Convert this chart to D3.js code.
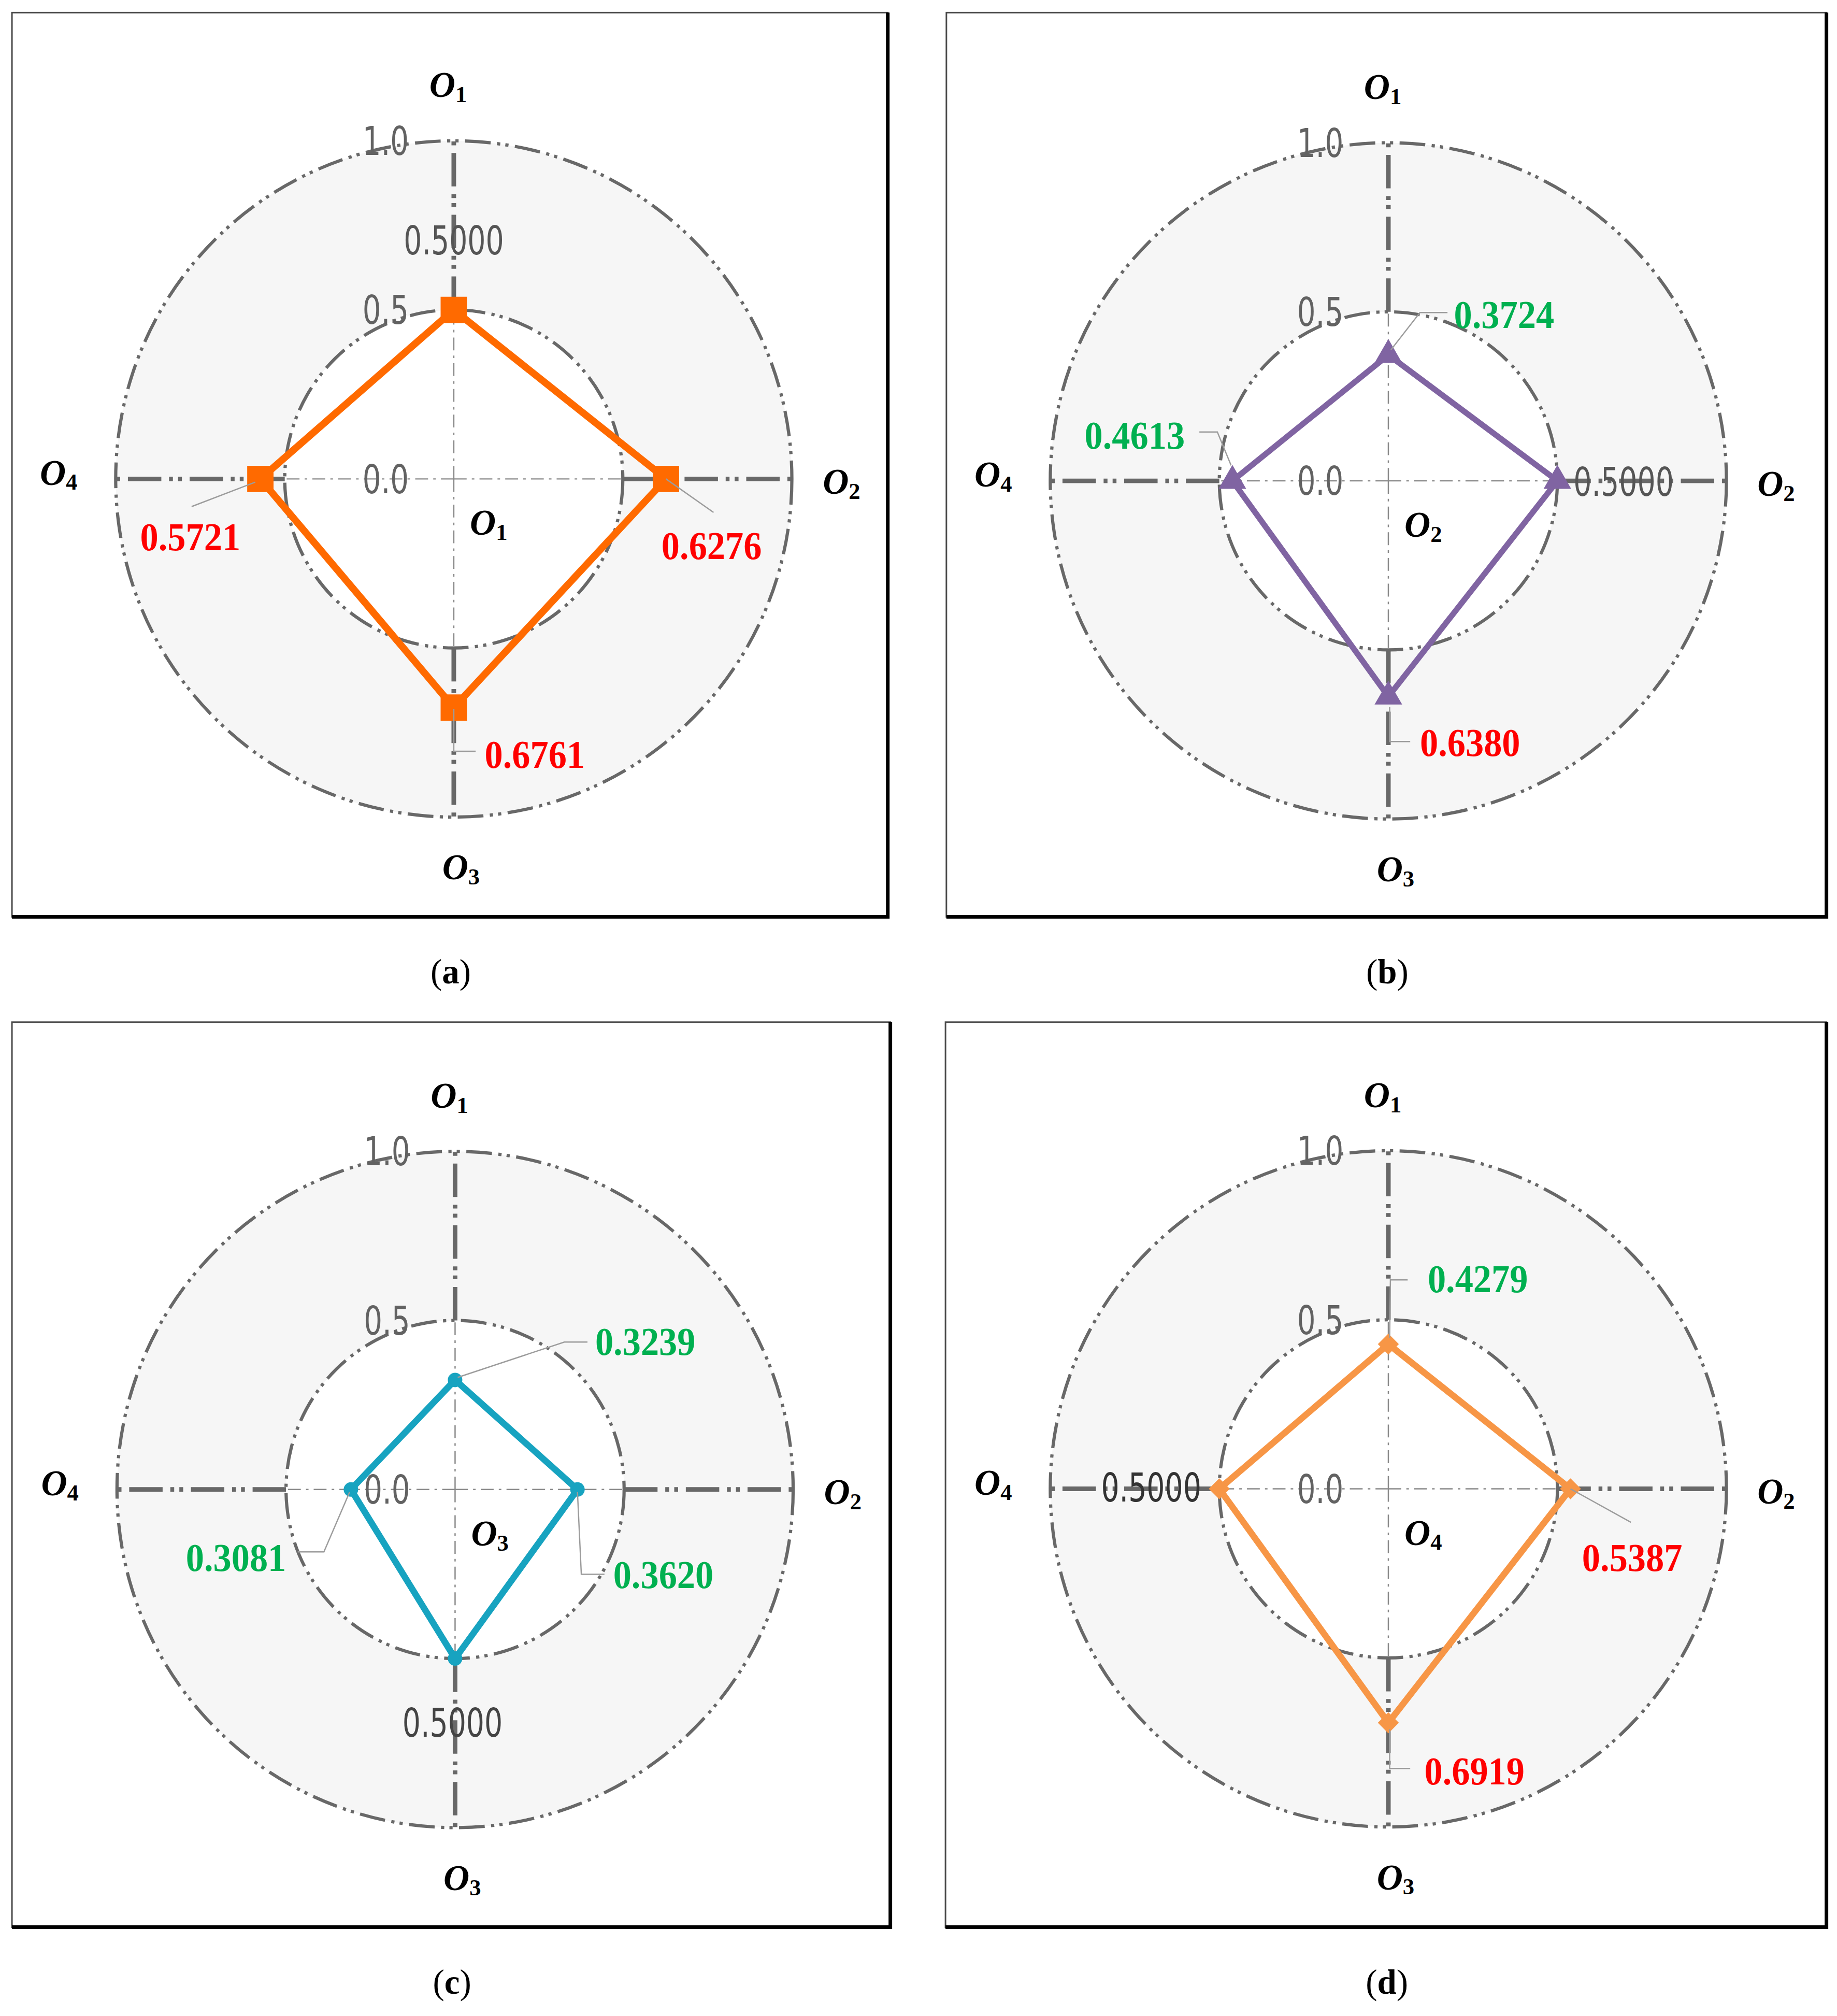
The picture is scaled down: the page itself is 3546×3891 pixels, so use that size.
<!DOCTYPE html>
<html>
<head>
<meta charset="utf-8">
<script src="https://cdn.jsdelivr.net/npm/d3@7"></script>
<style>
  html, body { margin: 0; padding: 0; background: #fff; }
  svg { display: block; }
</style>
</head>
<body>
<svg id="canvas"></svg>
<script>
// Objectives, clockwise from the top (O1 top, O2 right, O3 bottom, O4 left)
const objectives = ["1", "2", "3", "4"];
const panelNames = ["a", "b", "c", "d"];

// Normalised value of each objective, one array per panel
const valuesA = [0.5000, 0.6276, 0.6761, 0.5721];
const valuesB = [0.3724, 0.5000, 0.6380, 0.4613];
const valuesC = [0.3239, 0.3620, 0.5000, 0.3081];
const valuesD = [0.4279, 0.5387, 0.6919, 0.5000];

// Radial tick labels
const ringTicks = [0.0, 0.5, 1.0];

// Drawing is done in the coordinates of the shrunk picture, then scaled up
const W = 1429, H = 1568;
const R = 263;

const svg = d3.select("#canvas")
    .attr("width", 3546)
    .attr("height", 3891)
    .attr("viewBox", `0 0 ${W} ${H}`);

const r = d3.scaleLinear().domain([0, 1]).range([0, R]);
const angle = d3.scaleLinear().domain([0, objectives.length]).range([0, 2 * Math.PI]);

function polar(v, i) {
    const a = angle(i);
    return [Math.sin(a) * r(v), -Math.cos(a) * r(v)];
}

const diamond = d3.symbolDiamond2 || d3.symbolDiamond;

// Layout of each panel: box, centre, series style and where the value labels go
const panels = [
    {
        name: panelNames[0], values: valuesA, box: [9.3, 9.8, 692, 714.5], c: [353, 372.5],
        color: "#ff6a00", symbol: d3.symbolSquare, size: 420, lw: 5.5, refColor: "#555",
        labels: [
            { anchor: "middle", dx: 0, dy: -43, leader: null },
            { anchor: "start", dx: -3.5, dy: 62.5, leader: [[0, 0], [37, 26]] },
            { anchor: "start", dx: 24, dy: 47, leader: [[0, 1], [0, 34], [17, 34]] },
            { anchor: "end", dx: -15.5, dy: 55.5, leader: [[-4, 2.5], [-53.5, 21.5]] }
        ]
    },
    {
        name: panelNames[1], values: valuesB, box: [736.2, 9.8, 1422.2, 714.5], c: [1080, 374],
        color: "#8064a2", symbol: d3.symbolTriangle, size: 200, lw: 4.5, refColor: "#555",
        labels: [
            { anchor: "start", dx: 51, dy: -21, leader: [[2, -4], [24.6, -33], [46, -33]] },
            { anchor: "start", dx: 12.5, dy: 11.5, leader: null },
            { anchor: "start", dx: 24.6, dy: 46, leader: [[1, 8], [1, 35], [17, 35]] },
            { anchor: "end", dx: -37, dy: -25, leader: [[-1, -12], [-11.7, -38], [-25.7, -38]] }
        ]
    },
    {
        name: panelNames[2], values: valuesC, box: [9.3, 795, 694, 1500.3], c: [354, 1158.5],
        color: "#17a3c0", symbol: d3.symbolCircle, size: 100, lw: 5, refColor: "#444",
        labels: [
            { anchor: "start", dx: 109, dy: -19.5, leader: [[2, -2], [85, -29.5], [103, -29.5]] },
            { anchor: "start", dx: 27.8, dy: 76.5, leader: [[0, 2], [3, 66], [21, 66]] },
            { anchor: "middle", dx: -2, dy: 61, leader: null },
            { anchor: "end", dx: -50.4, dy: 63.5, leader: [[-1, 2], [-21, 48.5], [-41.4, 48.5]] }
        ]
    },
    {
        name: panelNames[3], values: valuesD, box: [735.5, 795, 1422.2, 1500.3], c: [1080, 1158],
        color: "#f79646", symbol: diamond, size: 170, lw: 5, refColor: "#333",
        labels: [
            { anchor: "start", dx: 30.6, dy: -40.5, leader: [[1, -5], [1.6, -50], [15, -50]] },
            { anchor: "start", dx: 9, dy: 64, leader: [[0, 0], [47, 26]] },
            { anchor: "start", dx: 28, dy: 48, leader: [[1, 5], [1, 35.5], [17, 35.5]] },
            { anchor: "end", dx: -14, dy: 10, leader: null }
        ]
    }
];

// Axis name positions (left edge, bottom edge) relative to the centre
const axisNamePos = [[-19, -293], [287, 15.5], [-9, 315.5], [-322, 8.5]];
const centreNamePos = [12.5, 47.5];

const gridColor = "#686868";
const sansNarrow = "'Liberation Sans Narrow', 'Arial Narrow', 'DejaVu Sans Condensed', sans-serif";
const serif = "'Liberation Serif', 'Times New Roman', serif";

function axisName(g, x, y, sub) {
    const t = g.append("text")
        .attr("x", x)
        .attr("y", y - 4)
        .attr("font-family", serif)
        .attr("font-style", "italic")
        .attr("font-weight", "bold")
        .attr("fill", "#000");
    t.append("tspan").attr("font-size", 28).text("O");
    t.append("tspan").attr("font-size", 18).attr("dy", 4).attr("font-style", "normal").text(sub);
}

panels.forEach((p, pi) => {
    const [x0, y0, x1, y1] = p.box;

    // frame: thin top/left edge, heavy bottom/right edge
    svg.append("rect")
        .attr("x", x0).attr("y", y0)
        .attr("width", x1 - x0 - 1.4).attr("height", y1 - y0 - 1.4)
        .attr("fill", "#fff")
        .attr("stroke", "#4a4a4a")
        .attr("stroke-width", 1.2);
    svg.append("path")
        .attr("d", `M${x0},${y1 - 1.4}H${x1 - 1.4}V${y0}`)
        .attr("fill", "none")
        .attr("stroke", "#000")
        .attr("stroke-width", 2.8);

    const g = svg.append("g").attr("transform", `translate(${p.c[0]},${p.c[1]})`);

    // shaded ring between 0.5 and 1.0
    g.append("path")
        .attr("d", d3.arc()({ innerRadius: r(0.5), outerRadius: r(1), startAngle: 0, endAngle: 2 * Math.PI }))
        .attr("fill", "#f6f6f6");

    // grid rings
    g.selectAll(".ring")
        .data([0.5, 1.0])
        .enter()
        .append("circle")
        .attr("class", "ring")
        .attr("r", d => r(d))
        .attr("fill", "none")
        .attr("stroke", gridColor)
        .attr("stroke-width", 2.5)
        .attr("stroke-dasharray", "20,5,2.5,4,2.5,5");

    // spokes: thin inside the 0.5 ring, heavy outside
    objectives.forEach((o, i) => {
        const a = polar(0.5, i), b = polar(1, i);
        g.append("line")
            .attr("x1", 0).attr("y1", 0)
            .attr("x2", a[0]).attr("y2", a[1])
            .attr("stroke", "#8a8a8a")
            .attr("stroke-width", 1)
            .attr("stroke-dasharray", "10,4,2,4");
        g.append("line")
            .attr("x1", a[0]).attr("y1", a[1])
            .attr("x2", b[0]).attr("y2", b[1])
            .attr("stroke", gridColor)
            .attr("stroke-width", 3.6)
            .attr("stroke-dasharray", "26,6,3,4,3,6");
    });

    // radial tick labels, left of the top spoke
    g.selectAll(".tick")
        .data(ringTicks)
        .enter()
        .append("text")
        .attr("class", "tick")
        .attr("x", -35)
        .attr("y", d => -r(d) + 11)
        .attr("text-anchor", "end")
        .attr("font-family", sansNarrow)
        .attr("font-size", 31)
        .attr("fill", "#626262")
        .attr("textLength", 36)
        .attr("lengthAdjust", "spacingAndGlyphs")
        .text(d3.format(".1f"));

    // axis names
    objectives.forEach((o, i) => axisName(g, axisNamePos[i][0], axisNamePos[i][1], o));
    axisName(g, centreNamePos[0], centreNamePos[1], objectives[pi]);

    // series polygon
    g.append("path")
        .datum(p.values)
        .attr("d", d3.lineRadial()
            .angle((d, i) => angle(i))
            .radius(d => r(d))
            .curve(d3.curveLinearClosed))
        .attr("fill", "none")
        .attr("stroke", p.color)
        .attr("stroke-width", p.lw)
        .attr("stroke-linejoin", "miter");

    // markers
    g.selectAll(".marker")
        .data(p.values)
        .enter()
        .append("path")
        .attr("class", "marker")
        .attr("transform", (d, i) => `translate(${polar(d, i)})`)
        .attr("d", d3.symbol().type(p.symbol).size(p.size))
        .attr("fill", p.color);

    // leader lines and value labels
    p.values.forEach((v, i) => {
        const [mx, my] = polar(v, i);
        const lab = p.labels[i];
        if (lab.leader) {
            g.append("path")
                .attr("d", d3.line()(lab.leader.map(q => [mx + q[0], my + q[1]])))
                .attr("fill", "none")
                .attr("stroke", "#9c9c9c")
                .attr("stroke-width", 1);
        }
        const isRef = Math.abs(v - 0.5) < 1e-9;
        const t = g.append("text")
            .attr("x", mx + lab.dx)
            .attr("y", my + lab.dy)
            .attr("text-anchor", lab.anchor)
            .attr("font-size", 31)
            .attr("lengthAdjust", "spacingAndGlyphs")
            .attr("textLength", 78)
            .text(d3.format(".4f")(v));
        if (isRef) {
            t.attr("font-family", sansNarrow)
                .attr("fill", p.refColor);
        } else {
            t.attr("font-family", serif)
                .attr("font-weight", "bold")
                .attr("fill", v > 0.5 ? "#ff0000" : "#00b050");
        }
    });

    // caption
    const cap = svg.append("text")
        .attr("x", (x0 + x1) / 2)
        .attr("y", y1 + 50.5)
        .attr("text-anchor", "middle")
        .attr("font-family", serif)
        .attr("font-size", 27)
        .attr("fill", "#000");
    cap.append("tspan").text("(");
    cap.append("tspan").attr("font-weight", "bold").text(p.name);
    cap.append("tspan").text(")");
});
</script>
</body>
</html>
